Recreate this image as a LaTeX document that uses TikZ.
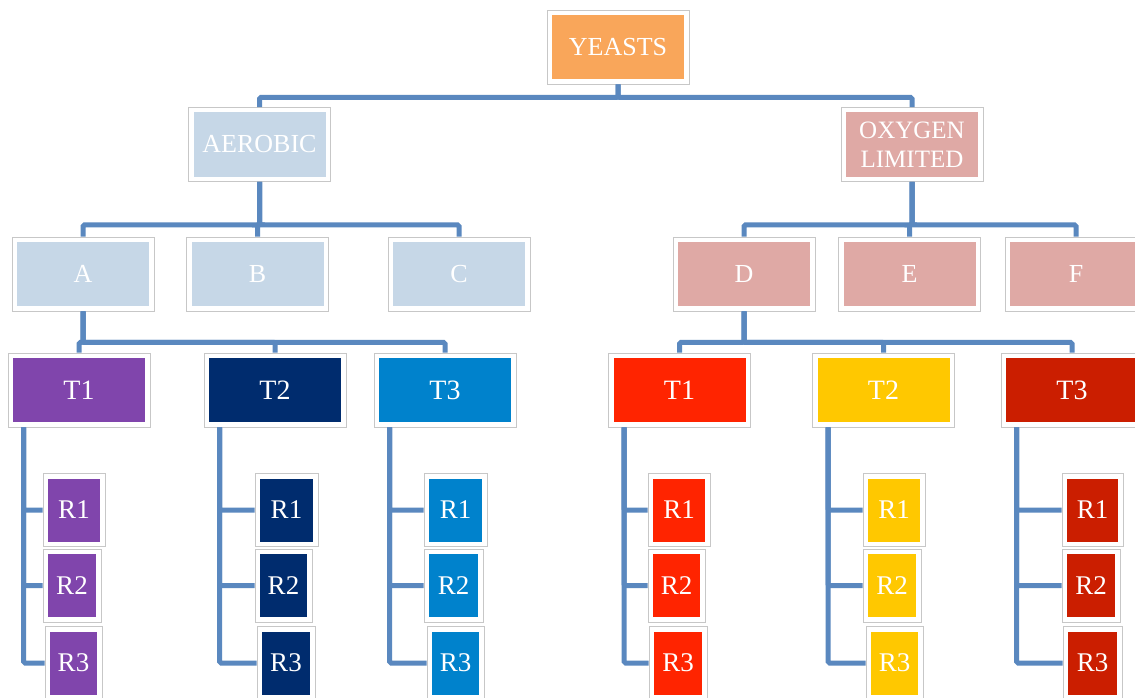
\documentclass[tikz,border=0pt]{standalone}
\usepackage{fontspec}
\setmainfont{Liberation Serif}
\definecolor{lineblue}{HTML}{5A88BF}
\definecolor{cYeast}{HTML}{F9A65A}
\definecolor{cAer}{HTML}{C6D7E7}
\definecolor{cOxy}{HTML}{DFA9A5}
\definecolor{cLTa}{HTML}{8045AC}
\definecolor{cLTb}{HTML}{002C6E}
\definecolor{cLTc}{HTML}{0082CC}
\definecolor{cRTa}{HTML}{FF2400}
\definecolor{cRTb}{HTML}{FFC800}
\definecolor{cRTc}{HTML}{CB1E00}
\tikzset{
  frame/.style={draw=black!22, fill=white, line width=0.8pt, inner sep=0pt, text=white,
    font=\fontsize{26}{28}\selectfont, align=center,
    path picture={\fill[#1] ([shift={(5pt,-5pt)}]path picture bounding box.north west) rectangle ([shift={(-5pt,5pt)}]path picture bounding box.south east);}},
  big/.style={frame=#1, minimum width=142pt, minimum height=74pt},
  tbox/.style={big=#1, font=\fontsize{28}{30}\selectfont},
  rbox/.style={frame=#1, minimum height=73pt, font=\fontsize{27}{30}\selectfont},
  conn/.style={draw=lineblue, line width=5pt, rounded corners=1.5pt},
}
\begin{document}
\begin{tikzpicture}[x=1pt,y=-1pt]
\path[use as bounding box, clip] (0,0) rectangle (1135,698);
\fill[white] (0,0) rectangle (1135,698);
% level 0-1
\node[big=cYeast] (yeasts) at (618,47) {YEASTS};
\node[big=cAer] (aerobic) at (259.5,144.5) {AEROBIC};
\node[big=cOxy, font=\fontsize{25}{29}\selectfont] (oxygen) at (912,144.5) {OXYGEN\\LIMITED};
% level 2
\node[big=cAer] (A) at (83,274) {A};
\node[big=cAer] (B) at (257.5,274) {B};
\node[big=cAer] (C) at (459,274) {C};
\node[big=cOxy] (D) at (744,274) {D};
\node[big=cOxy] (E) at (909.5,274) {E};
\node[big=cOxy] (F) at (1076,274) {F};
% level 3
\node[tbox=cLTa] (LT1) at (79,390) {T1};
\node[tbox=cLTb] (LT2) at (275,390) {T2};
\node[tbox=cLTc] (LT3) at (445,390) {T3};
\node[tbox=cRTa] (RT1) at (679.5,390) {T1};
\node[tbox=cRTb] (RT2) at (883.5,390) {T2};
\node[tbox=cRTc] (RT3) at (1072,390) {T3};
% level 4
\node[rbox=cLTa, minimum width=62pt] (LT1R1) at (74,510) {R1};
\node[rbox=cLTa, minimum width=58pt] (LT1R2) at (72,585.5) {R2};
\node[rbox=cLTa, minimum width=57pt] (LT1R3) at (73.5,663) {R3};
\node[rbox=cLTb, minimum width=63pt] (LT2R1) at (286.5,510) {R1};
\node[rbox=cLTb, minimum width=57pt] (LT2R2) at (283.5,585.5) {R2};
\node[rbox=cLTb, minimum width=58pt] (LT2R3) at (286,663) {R3};
\node[rbox=cLTc, minimum width=63pt] (LT3R1) at (455.5,510) {R1};
\node[rbox=cLTc, minimum width=59pt] (LT3R2) at (453.5,585.5) {R2};
\node[rbox=cLTc, minimum width=57pt] (LT3R3) at (455.5,663) {R3};
\node[rbox=cRTa, minimum width=62pt] (RT1R1) at (679,510) {R1};
\node[rbox=cRTa, minimum width=57pt] (RT1R2) at (676.5,585.5) {R2};
\node[rbox=cRTa, minimum width=58pt] (RT1R3) at (678,663) {R3};
\node[rbox=cRTb, minimum width=62pt] (RT2R1) at (894,510) {R1};
\node[rbox=cRTb, minimum width=58pt] (RT2R2) at (892,585.5) {R2};
\node[rbox=cRTb, minimum width=57pt] (RT2R3) at (894.5,663) {R3};
\node[rbox=cRTc, minimum width=61pt] (RT3R1) at (1092.5,510) {R1};
\node[rbox=cRTc, minimum width=58pt] (RT3R2) at (1091,585.5) {R2};
\node[rbox=cRTc, minimum width=59pt] (RT3R3) at (1092.5,663) {R3};
% connectors level 1
\draw[conn] (yeasts.south) -- ++(0,13) -| (aerobic.north);
\draw[conn] (yeasts.south) -- ++(0,13) -| (oxygen.north);
% level 2
\draw[conn] (aerobic.south) -- ++(0,43) -| (A.north);
\draw[conn] (aerobic.south) -- ++(0,43) -| (B.north);
\draw[conn] (aerobic.south) -- ++(0,43) -| (C.north);
\draw[conn] (oxygen.south) -- ++(0,43) -| (D.north);
\draw[conn] (oxygen.south) -- ++(0,43) -| (E.north);
\draw[conn] (oxygen.south) -- ++(0,43) -| (F.north);
% level 3
\draw[conn] (A.south) -- ++(0,31) -| (LT1.north);
\draw[conn] (A.south) -- ++(0,31) -| (LT2.north);
\draw[conn] (A.south) -- ++(0,31) -| (LT3.north);
\draw[conn] (D.south) -- ++(0,31) -| (RT1.north);
\draw[conn] (D.south) -- ++(0,31) -| (RT2.north);
\draw[conn] (D.south) -- ++(0,31) -| (RT3.north);
% level 4
\foreach \t in {LT1,LT2,LT3,RT1,RT2,RT3}{
  \foreach \r in {R1,R2,R3}{
    \draw[conn] (\t.south west) ++(16,0) |- (\t\r.west);
  }
}
\end{tikzpicture}
\end{document}
